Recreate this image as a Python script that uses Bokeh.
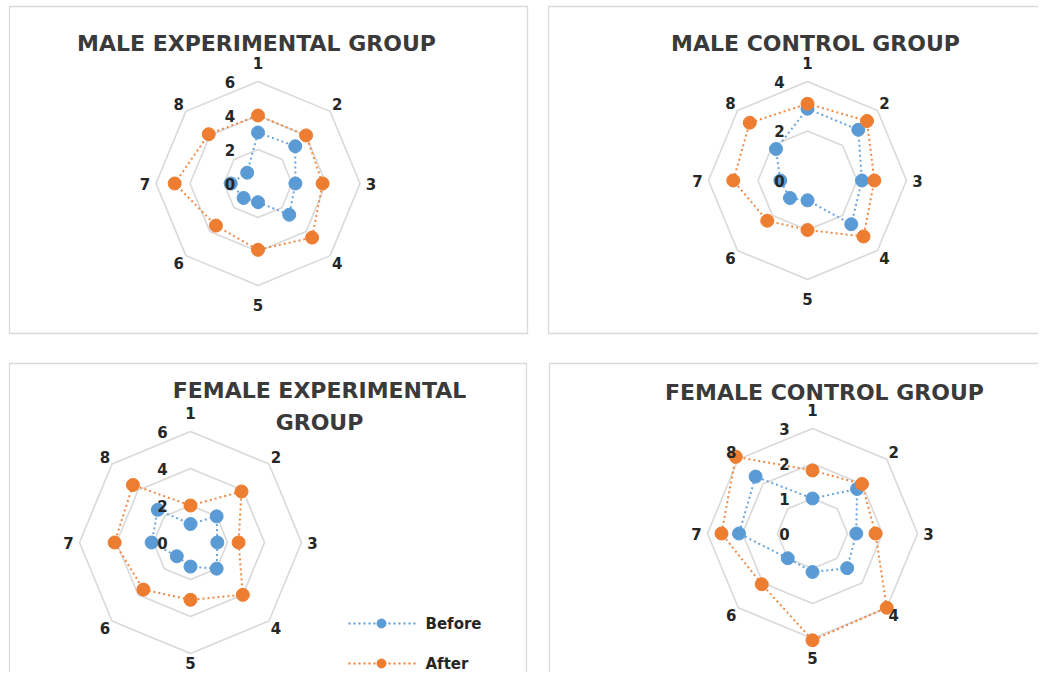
import math
from bokeh.plotting import figure
from bokeh.models import Range1d
from bokeh.core.properties import value
from bokeh.embed import file_html
from bokeh.resources import INLINE

# ---------------- data ----------------
axis_labels = ["1", "2", "3", "4", "5", "6", "7", "8"]
series_names = ["Before", "After"]

male_exp_before = [3.0, 3.1, 2.2, 2.6, 1.1, 1.2, 1.6, 0.9]
male_exp_after = [4.0, 4.0, 3.8, 4.5, 3.9, 3.5, 4.9, 4.1]

male_ctrl_before = [2.9, 2.9, 2.2, 2.5, 0.8, 1.0, 1.1, 1.8]
male_ctrl_after = [3.1, 3.4, 2.7, 3.2, 2.0, 2.3, 3.0, 3.3]

fem_exp_before = [1.0, 2.0, 1.45, 2.0, 1.3, 1.05, 2.1, 2.5]
fem_exp_after = [2.0, 3.9, 2.6, 4.0, 3.1, 3.6, 4.1, 4.4]

fem_ctrl_before = [1.0, 1.8, 1.25, 1.4, 1.1, 1.0, 2.1, 2.3]
fem_ctrl_after = [1.8, 2.0, 1.8, 3.0, 3.05, 2.05, 2.6, 3.1]

titles = ["MALE EXPERIMENTAL GROUP", "MALE CONTROL GROUP",
          "FEMALE EXPERIMENTAL\nGROUP", "FEMALE CONTROL GROUP"]
scale_max = [6, 4, 6, 3]
scale_step = [2, 2, 2, 1]

# ---------------- layout / style ----------------
BLUE = "#5B9BD5"
ORANGE = "#ED7D31"
GRID = "#D9D9D9"
TXT = "#262626"
FONT = value("DejaVu Sans")

W, H = 1038, 672
p = figure(width=W, height=H, x_range=Range1d(0, W), y_range=Range1d(H, 0),
           output_backend="svg", toolbar_location=None, min_border=0,
           x_axis_location=None, y_axis_location=None)
p.grid.visible = False
p.outline_line_color = None
p.background_fill_color = "white"
p.border_fill_color = "white"

# panel frames
p.quad(left=[9, 548, 9, 549], right=[527, 1075, 526, 1075],
       top=[6, 6, 363, 363], bottom=[333, 333, 705, 705],
       fill_color="white", line_color=GRID, line_width=1.3)

panels = [
    dict(c=(257.5, 183), R=102, data=(male_exp_before, male_exp_after),
         title_xy=(256, 43)),
    dict(c=(807, 180), R=99, data=(male_ctrl_before, male_ctrl_after),
         title_xy=(815, 43)),
    dict(c=(190, 542), R=111, data=(fem_exp_before, fem_exp_after),
         title_xy=(319, 406)),
    dict(c=(812, 533), R=105, data=(fem_ctrl_before, fem_ctrl_after),
         title_xy=(824, 392)),
]


def pos(cx, cy, r, i):
    a = math.radians(45 * i)
    return cx + r * math.sin(a), cy - r * math.cos(a)


for k, pan in enumerate(panels):
    cx, cy = pan["c"]
    R = pan["R"]
    mx = scale_max[k]
    st = scale_step[k]
    ppu = R / mx
    # rings
    rings_x, rings_y = [], []
    v = st
    while v <= mx + 1e-9:
        pts = [pos(cx, cy, v * ppu, i) for i in range(8)]
        pts.append(pts[0])
        rings_x.append([q[0] for q in pts])
        rings_y.append([q[1] for q in pts])
        v += st
    p.multi_line(rings_x, rings_y, line_color=GRID, line_width=1.6)

    # series
    for vals, col in zip(pan["data"], [BLUE, ORANGE]):
        pts = [pos(cx, cy, vals[i] * ppu, i) for i in range(8)]
        xs = [q[0] for q in pts]
        ys = [q[1] for q in pts]
        p.line(xs + [xs[0]], ys + [ys[0]], line_color=col, line_width=2,
               line_dash="2 3", line_alpha=0.9)
        p.scatter(xs, ys, size=13, fill_color=col, line_color=col)

    # axis category labels
    lx, ly = [], []
    for i in range(8):
        if i % 4 == 0:
            d = R + 19
        elif i % 2 == 0:
            d = R + 11
        else:
            d = R + 10
        x, y = pos(cx, cy, d, i)
        lx.append(x)
        ly.append(min(y, H - 10))
    p.text(lx, ly, text=axis_labels, text_align="center", text_baseline="middle",
           text_font=FONT, text_font_style="bold", text_font_size="15px",
           text_color=TXT)

    # tick labels
    tx, ty, tt = [], [], []
    v = 0
    while v <= mx + 1e-9:
        tx.append(cx - 28)
        ty.append(cy - v * ppu)
        tt.append(str(v))
        v += st
    p.text(tx, ty, text=tt, text_align="center", text_baseline="middle",
           text_font=FONT, text_font_style="bold", text_font_size="15px",
           text_color=TXT)

    # title
    tx0, ty0 = pan["title_xy"]
    p.text([tx0], [ty0], text=[titles[k]], text_align="center", text_baseline="middle",
           text_font=FONT, text_font_style="bold", text_font_size="22px",
           text_color="#3A3A3A", text_line_height=1.25)

# legend (inside female experimental panel)
leg_y = [623, 663]
for nm, col, y in zip(series_names, [BLUE, ORANGE], leg_y):
    p.line([348, 415], [y, y], line_color=col, line_width=2, line_dash="2 3")
    p.scatter([381], [y], size=9, fill_color=col, line_color=col)
p.text([425, 425], leg_y, text=series_names, text_align="left", text_baseline="middle",
       text_font=FONT, text_font_style="bold", text_font_size="15px", text_color=TXT)

open("out.html", "w").write(file_html(p, INLINE))
